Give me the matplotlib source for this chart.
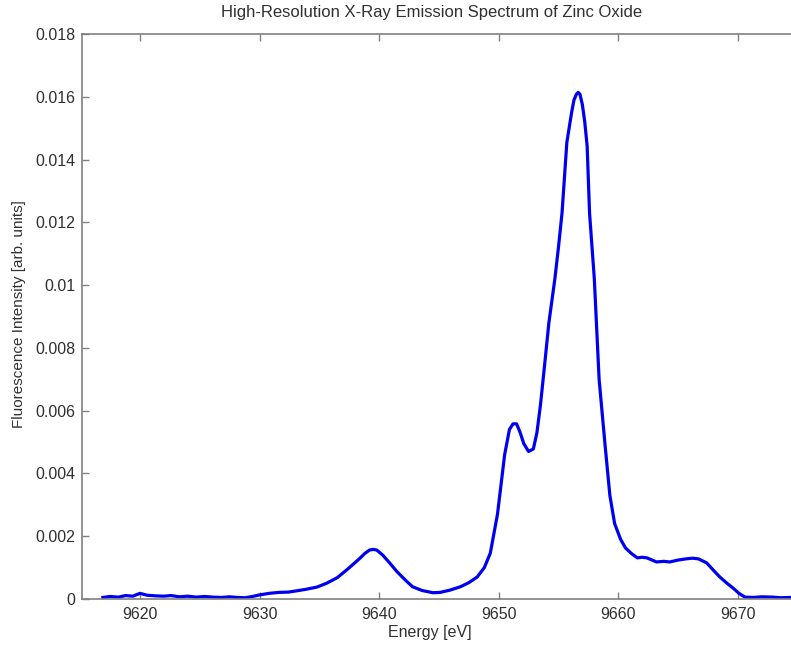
import matplotlib
matplotlib.use("Agg")
import matplotlib.pyplot as plt

# energy (eV) and fluorescence intensity
energy = [9616.9, 9617.5, 9618.2, 9618.8, 9619.4, 9620.0, 9620.6, 9621.3, 9622.0, 9622.6,
          9623.3, 9624.0, 9624.7, 9625.4, 9626.1, 9626.8, 9627.5, 9628.1, 9628.8, 9629.4,
          9630.0, 9630.8, 9631.6, 9632.4, 9633.1, 9633.9, 9634.8, 9635.6, 9636.5, 9637.3,
          9637.9, 9638.4, 9638.8, 9639.2, 9639.5, 9639.8, 9640.3, 9640.9, 9641.5, 9642.2,
          9642.8, 9643.6, 9644.5, 9645.1, 9645.9, 9646.8, 9647.5, 9648.2, 9648.8, 9649.3,
          9649.9, 9650.2, 9650.5, 9650.9, 9651.2, 9651.5, 9651.8, 9652.1, 9652.5, 9652.9,
          9653.2, 9653.5, 9653.8, 9654.2, 9654.7, 9655.0, 9655.3, 9655.7, 9656.1, 9656.3,
          9656.5, 9656.65, 9656.8, 9657.0, 9657.2, 9657.4, 9657.6, 9658.0, 9658.4, 9658.9,
          9659.3, 9659.7, 9660.2, 9660.6, 9661.1, 9661.6, 9662.0, 9662.4, 9663.2, 9663.8,
          9664.3, 9665.0, 9665.7, 9666.2, 9666.7, 9667.4, 9668.0, 9668.5, 9669.1, 9669.6,
          9670.1, 9670.6, 9671.3, 9672.0, 9672.9, 9673.6, 9674.4]
intensity = [0.00005, 0.00008, 0.00006, 0.00011, 0.00009, 0.00018, 0.00012, 0.00010, 0.00009, 0.00011,
             0.00007, 0.00009, 0.00006, 0.00008, 0.00006, 0.00005, 0.00007, 0.00005, 0.00004, 0.00008,
             0.00013, 0.00018, 0.00021, 0.00022, 0.00026, 0.00031, 0.00038, 0.00050, 0.00068, 0.00093,
             0.00113, 0.00130, 0.00145, 0.00156, 0.00158, 0.00156, 0.00140, 0.00114, 0.00087, 0.00060,
             0.00039, 0.00027, 0.00020, 0.00021, 0.00028, 0.00039, 0.00052, 0.00070, 0.00100, 0.00146,
             0.00270, 0.00365, 0.00460, 0.00540, 0.00558, 0.00558, 0.00530, 0.00495, 0.00470, 0.00478,
             0.00530, 0.00620, 0.00730, 0.00880, 0.01020, 0.01120, 0.01230, 0.01454, 0.01550, 0.01590,
             0.01608, 0.01614, 0.01608, 0.01575, 0.01520, 0.01443, 0.01230, 0.01020, 0.00700, 0.00490,
             0.00330, 0.00240, 0.00190, 0.00163, 0.00145, 0.00131, 0.00133, 0.00131, 0.00118, 0.00120,
             0.00118, 0.00124, 0.00128, 0.00130, 0.00128, 0.00115, 0.00090, 0.00070, 0.00050, 0.00035,
             0.00018, 0.00006, 0.00005, 0.00007, 0.00006, 0.00004, 0.00005]

x_ticks = [9620, 9630, 9640, 9650, 9660, 9670]
y_ticks = [0, 0.002, 0.004, 0.006, 0.008, 0.01, 0.012, 0.014, 0.016, 0.018]
y_tick_labels = ['0', '0.002', '0.004', '0.006', '0.008', '0.01', '0.012', '0.014', '0.016', '0.018']

plt.rcParams['font.family'] = ['Liberation Sans', 'DejaVu Sans']

fig = plt.figure(figsize=(7.91, 6.48), dpi=100)
ax = fig.add_axes([82 / 791, 49 / 648, 709 / 791, 565 / 648])

ax.plot(energy, intensity, color='#0000f0', linewidth=2.3)

ax.set_xlim(9615.15, 9674.45)
ax.set_ylim(0, 0.018)
ax.set_xticks(x_ticks)
ax.set_yticks(y_ticks)
ax.set_yticklabels(y_tick_labels)

grey = '#808080'
for side in ['left', 'bottom', 'top']:
    ax.spines[side].set_color(grey)
    ax.spines[side].set_linewidth(1.2)
ax.spines['right'].set_visible(False)
ax.tick_params(axis='both', direction='in', length=5, width=1, color=grey,
               labelsize=11.5, labelcolor='#303030')
ax.tick_params(axis='x', top=True, pad=6)
ax.tick_params(axis='y', pad=5)

ax.set_ylabel('Fluorescence Intensity [arb. units]', fontsize=11, color='#303030')
ax.yaxis.set_label_coords(-0.079, 0.504)
fig.text(0.544, 1 - 632 / 648, 'Energy [eV]', ha='center', va='center',
         fontsize=11.5, color='#303030')
fig.text(0.545, 1 - 13 / 648, 'High-Resolution X-Ray Emission Spectrum of Zinc Oxide',
         ha='center', va='center', fontsize=12, color='#303030')

fig.savefig('out.png', dpi=100)
